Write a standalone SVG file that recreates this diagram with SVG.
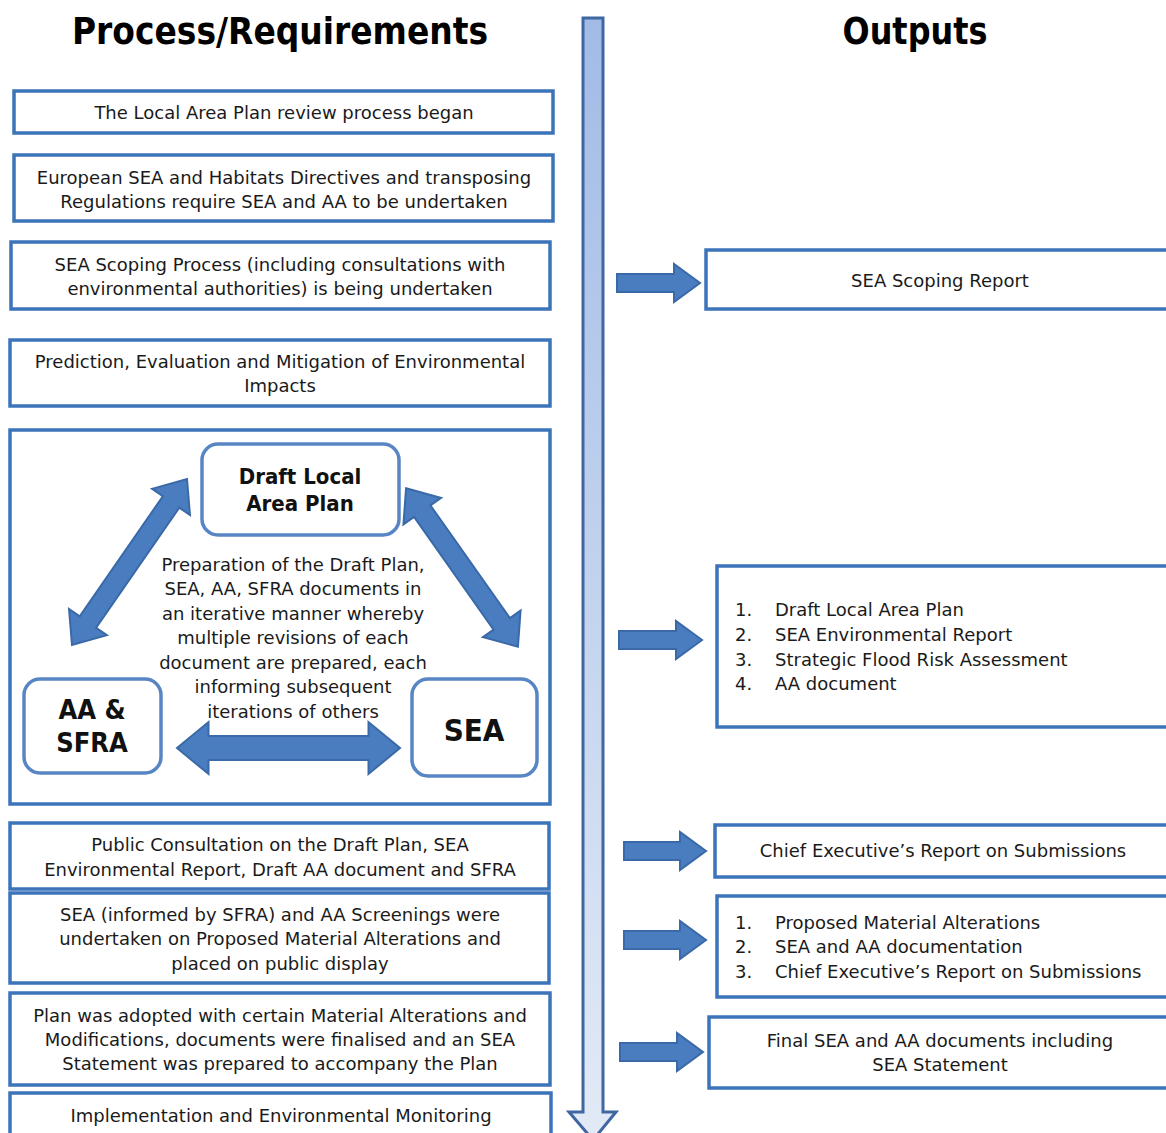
<svg xmlns="http://www.w3.org/2000/svg" width="1166" height="1133" viewBox="0 0 1166 1133">
<defs>
<style>
.t{font-family:"DejaVu Sans",Verdana,sans-serif;font-size:18px;fill:#1a1a1a;text-anchor:middle}
.l{font-family:"DejaVu Sans",Verdana,sans-serif;font-size:18px;fill:#1a1a1a}
.h{font-family:"DejaVu Sans Condensed","DejaVu Sans",Verdana,sans-serif;font-weight:bold;fill:#000;text-anchor:middle}
.b{font-family:"DejaVu Sans Condensed","DejaVu Sans",Verdana,sans-serif;font-weight:bold;fill:#111;text-anchor:middle}
.box{fill:#fff;stroke:#3c74ba;stroke-width:3.5}
.rbox{fill:#fff;stroke:#5886c4;stroke-width:3.5}
.arr{fill:#4a7cc0;stroke:#3a69a8;stroke-width:2;stroke-linejoin:miter}
</style>
<linearGradient id="vg" x1="0" y1="0" x2="0" y2="1">
<stop offset="0" stop-color="#a2bbe6"/>
<stop offset="1" stop-color="#e2eaf6"/>
</linearGradient>
</defs>
<rect width="1166" height="1133" fill="#fff"/>

<text class="h" x="280" y="44" font-size="38" textLength="416" lengthAdjust="spacingAndGlyphs">Process/Requirements</text>
<text class="h" x="915" y="44" font-size="38" textLength="145" lengthAdjust="spacingAndGlyphs">Outputs</text>

<g id="timeline">
<polygon points="583,18 603,18 603,1112 616,1112 593,1140 569,1112 583,1112" fill="url(#vg)" stroke="#3f67a1" stroke-width="3"/>
</g>

<g id="n1"><rect class="box" x="14" y="91" width="539" height="42"/>
<text class="t" x="284" y="119">The Local Area Plan review process began</text></g>

<g id="n2"><rect class="box" x="14" y="155" width="539" height="66"/>
<text class="t" x="284" y="184">European SEA and Habitats Directives and transposing</text>
<text class="t" x="284" y="208">Regulations require SEA and AA to be undertaken</text></g>

<g id="n3"><rect class="box" x="11" y="242" width="539" height="67"/>
<text class="t" x="280" y="271">SEA Scoping Process (including consultations with</text>
<text class="t" x="280" y="295">environmental authorities) is being undertaken</text></g>

<g id="n4"><rect class="box" x="10" y="340" width="540" height="66"/>
<text class="t" x="280" y="368">Prediction, Evaluation and Mitigation of Environmental</text>
<text class="t" x="280" y="392">Impacts</text></g>

<g id="n5"><rect class="box" x="10" y="430" width="540" height="374"/>
<text class="t" x="293" y="571">Preparation of the Draft Plan,</text>
<text class="t" x="293" y="595">SEA, AA, SFRA documents in</text>
<text class="t" x="293" y="620">an iterative manner whereby</text>
<text class="t" x="293" y="644">multiple revisions of each</text>
<text class="t" x="293" y="669">document are prepared, each</text>
<text class="t" x="293" y="693">informing subsequent</text>
<text class="t" x="293" y="718">iterations of others</text></g>

<g id="n5a"><rect class="rbox" x="202" y="444" width="197" height="91" rx="16"/>
<text class="b" x="300" y="484" font-size="22">Draft Local</text>
<text class="b" x="300" y="511" font-size="22">Area Plan</text></g>

<g id="n5b"><rect class="rbox" x="24" y="679" width="137" height="94" rx="16"/>
<text class="b" x="92" y="719" font-size="27">AA &amp;</text>
<text class="b" x="92" y="752" font-size="27">SFRA</text></g>

<g id="n5c"><rect class="rbox" x="412" y="679" width="125" height="97" rx="16"/>
<text class="b" x="474" y="741" font-size="31">SEA</text></g>

<g id="n6"><rect class="box" x="10" y="823" width="539" height="66"/>
<text class="t" x="280" y="851">Public Consultation on the Draft Plan, SEA</text>
<text class="t" x="280" y="876">Environmental Report, Draft AA document and SFRA</text></g>

<g id="n7"><rect class="box" x="10" y="893" width="539" height="90"/>
<text class="t" x="280" y="921">SEA (informed by SFRA) and AA Screenings were</text>
<text class="t" x="280" y="945">undertaken on Proposed Material Alterations and</text>
<text class="t" x="280" y="970">placed on public display</text></g>

<g id="n8"><rect class="box" x="10" y="993" width="540" height="92"/>
<text class="t" x="280" y="1022">Plan was adopted with certain Material Alterations and</text>
<text class="t" x="280" y="1046">Modifications, documents were finalised and an SEA</text>
<text class="t" x="280" y="1070">Statement was prepared to accompany the Plan</text></g>

<g id="n9"><rect class="box" x="10" y="1093" width="541" height="50"/>
<text class="t" x="281" y="1122">Implementation and Environmental Monitoring</text></g>

<g id="o1"><rect class="box" x="706" y="250" width="470" height="59"/>
<text class="t" x="940" y="287">SEA Scoping Report</text></g>

<g id="o2"><rect class="box" x="717" y="566" width="459" height="161"/>
<text class="l" x="735" y="616">1.</text><text class="l" x="775" y="616">Draft Local Area Plan</text>
<text class="l" x="735" y="641">2.</text><text class="l" x="775" y="641">SEA Environmental Report</text>
<text class="l" x="735" y="666">3.</text><text class="l" x="775" y="666">Strategic Flood Risk Assessment</text>
<text class="l" x="735" y="690">4.</text><text class="l" x="775" y="690">AA document</text></g>

<g id="o3"><rect class="box" x="715" y="825" width="461" height="52"/>
<text class="t" x="943" y="857">Chief Executive’s Report on Submissions</text></g>

<g id="o4"><rect class="box" x="717" y="896" width="459" height="101"/>
<text class="l" x="735" y="929">1.</text><text class="l" x="775" y="929">Proposed Material Alterations</text>
<text class="l" x="735" y="953">2.</text><text class="l" x="775" y="953">SEA and AA documentation</text>
<text class="l" x="735" y="978">3.</text><text class="l" x="775" y="978">Chief Executive’s Report on Submissions</text></g>

<g id="o5"><rect class="box" x="709" y="1017" width="467" height="71"/>
<text class="t" x="940" y="1047">Final SEA and AA documents including</text>
<text class="t" x="940" y="1071">SEA Statement</text></g>

<g id="connectors">
<polygon class="arr" points="617,274 674,274 674,264 700,283 674,302 674,292 617,292"/>
<polygon class="arr" points="619,631 676,631 676,621 702,640 676,659 676,649 619,649"/>
<polygon class="arr" points="624,842 680,842 680,832 706,851 680,870 680,860 624,860"/>
<polygon class="arr" points="624,931 680,931 680,921 706,940 680,959 680,949 624,949"/>
<polygon class="arr" points="620,1043 677,1043 677,1033 703,1052 677,1071 677,1061 620,1061"/>
<polygon class="arr" transform="translate(129.5,562) rotate(-55.3)" points="-101,0 -73,-23 -73,-10 73,-10 73,-23 101,0 73,23 73,10 -73,10 -73,23"/>
<polygon class="arr" transform="translate(462,567.5) rotate(54.8)" points="-97,0 -69,-23 -69,-10 69,-10 69,-23 97,0 69,23 69,10 -69,10 -69,23"/>
<polygon class="arr" transform="translate(288.5,748)" points="-111.5,0 -80,-26 -80,-12 80,-12 80,-26 111.5,0 80,26 80,12 -80,12 -80,26"/>
</g>
</svg>
